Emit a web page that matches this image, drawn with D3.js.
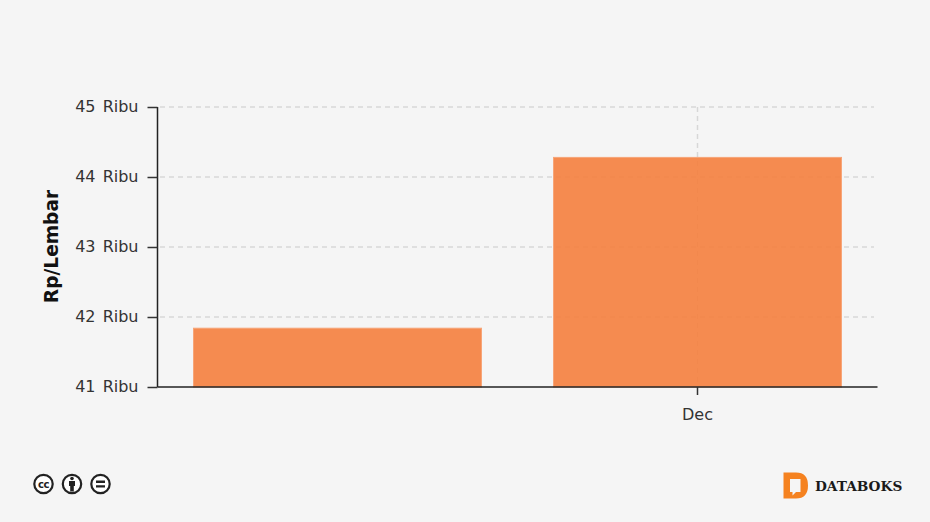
<!DOCTYPE html>
<html><head><meta charset="utf-8">
<script src="https://cdn.jsdelivr.net/npm/d3@7"></script>
<style>html,body{margin:0;padding:0;background:#f5f5f5}svg{display:block}</style>
</head><body><svg id="c" width="930" height="522"></svg>
<script>
const categories = ["Nov", "Dec"];
const values = [41840, 44280];
const tickValues = [41000, 42000, 43000, 44000, 45000];
const xTickLabels = ["Dec"];
const yTitle = "Rp/Lembar";
const brand = "DATABOKS";

const svg = d3.select("#c");
const font = "'DejaVu Sans', Verdana, sans-serif";
const x = d3.scaleBand().domain(categories).range([157.5, 877.5]).paddingInner(0.2).paddingOuter(0.1);
const y = d3.scaleLinear().domain([41000, 45000]).range([387, 107]);

// grid
const grid = svg.append("g").attr("stroke", "#cfcfcf").attr("stroke-opacity", 0.8).attr("stroke-width", 1.5).attr("stroke-dasharray", "5 4").attr("fill", "none");
grid.selectAll(".h").data(tickValues.slice(1)).join("line").attr("class", "h")
  .attr("x1", 160).attr("x2", 874).attr("y1", d => y(d)).attr("y2", d => y(d));
grid.selectAll(".v").data(xTickLabels).join("line").attr("class", "v")
  .attr("x1", d => x(d) + x.bandwidth() / 2).attr("x2", d => x(d) + x.bandwidth() / 2)
  .attr("y1", y(45000)).attr("y2", y(41000));

// bars
svg.append("g").selectAll("rect").data(values).join("rect")
  .attr("x", (d, i) => x(categories[i]))
  .attr("y", d => y(d))
  .attr("width", x.bandwidth())
  .attr("height", d => y(41000) - y(d))
  .attr("fill", "#f5803e").attr("fill-opacity", 0.9).attr("stroke", "#f7a578").attr("stroke-width", 1);

// y axis
const yAxis = svg.append("g").attr("transform", "translate(157.5,0)")
  .call(d3.axisLeft(y).tickValues(tickValues).tickSize(10).tickPadding(9).tickFormat(d => (d / 1000) + " Ribu"));
yAxis.selectAll(".domain").attr("stroke", "#222").attr("stroke-width", 1.5).attr("d", `M0,${y(45000)}V${y(41000)}`);
yAxis.selectAll("line").attr("stroke", "#333").attr("stroke-width", 1.5);
yAxis.selectAll("text").attr("font-family", font).attr("font-size", 16).attr("word-spacing", 2).attr("fill", "#333").attr("y", -1);

// x axis
const xAxis = svg.append("g").attr("transform", `translate(0,${y(41000)})`)
  .call(d3.axisBottom(x).tickValues(xTickLabels).tickSize(8).tickPadding(14).tickSizeOuter(0));
xAxis.selectAll(".domain").attr("stroke", "#222").attr("stroke-width", 1.5).attr("d", "M157.5,0H877.5");
xAxis.selectAll("line").attr("stroke", "#333").attr("stroke-width", 1.5);
xAxis.selectAll("text").attr("font-family", font).attr("font-size", 16).attr("fill", "#333");

// y title
svg.append("text").attr("transform", "translate(58,246.5) rotate(-90)")
  .attr("text-anchor", "middle").attr("font-family", font).attr("font-size", 18.6).attr("font-weight", "bold").attr("fill", "#111").text(yTitle);

// licence icons
const ic = svg.append("g").attr("fill", "none").attr("stroke", "#222");
[43.5, 72, 100.5].forEach(cx => ic.append("circle").attr("cx", cx).attr("cy", 484).attr("r", 9.2).attr("stroke-width", 2.2).attr("fill", "#fff"));
svg.append("text").attr("x", 43.5).attr("y", 487.5).attr("text-anchor", "middle").attr("font-family", font).attr("font-weight", "bold").attr("font-size", 10).attr("letter-spacing", -0.5).attr("fill", "#222").text("cc");
svg.append("circle").attr("cx", 72).attr("cy", 478.5).attr("r", 1.8).attr("fill", "#222");
svg.append("path").attr("d", "M69,481h6v5h-1.2v5.5h-3.6V486H69z").attr("fill", "#222");
svg.append("path").attr("d", "M96,480.5h9v2.4h-9zM96,485.2h9v2.4h-9z").attr("fill", "#222");

// brand
svg.append("path").attr("fill-rule", "evenodd").attr("fill", "#f58220")
  .attr("d", "M783.5,472.5H796Q808,472.5 808,485.5Q808,498.5 796,498.5H783.5ZM790,479V492H792.5V495.5L796,492H800.5V479Z");
svg.append("text").attr("x", 815).attr("y", 491).attr("font-family", "'DejaVu Serif', serif").attr("font-weight", "bold").attr("font-size", 13.7).attr("fill", "#1a1a1a").text(brand);
</script></body></html>
